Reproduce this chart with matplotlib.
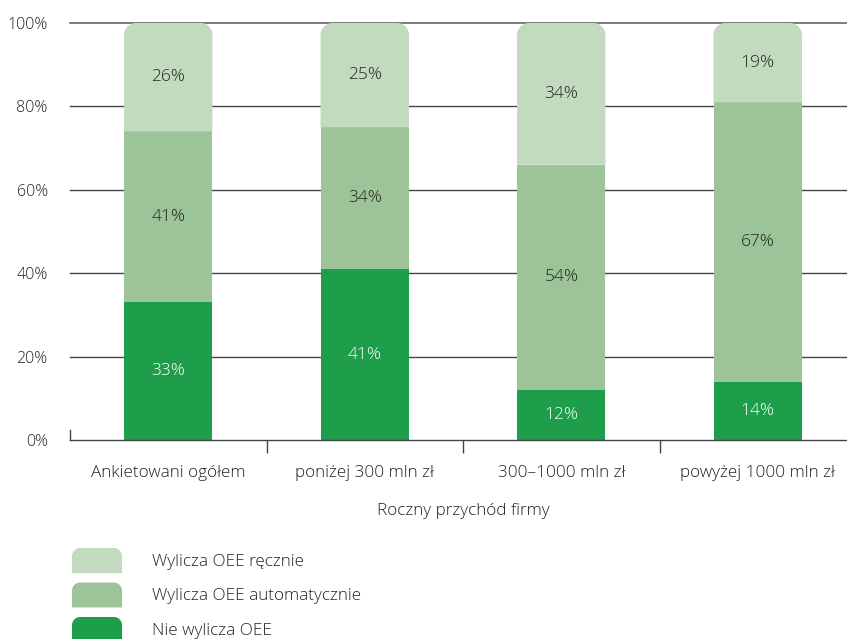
import matplotlib
matplotlib.use("Agg")
import matplotlib.pyplot as plt
from matplotlib.path import Path
from matplotlib.patches import PathPatch

plt.rcParams['font.family'] = ['Open Sans', 'DejaVu Sans']
plt.rcParams['font.weight'] = 'light'
plt.rcParams['axes.labelweight'] = 'light'

categories = ["Ankietowani ogółem", "poniżej 300 mln zł", "300–1000 mln zł", "powyżej 1000 mln zł"]
series_names = ["Nie wylicza OEE", "Wylicza OEE automatycznie", "Wylicza OEE ręcznie"]
nie_wylicza = [33, 41, 12, 14]
automatycznie = [41, 34, 54, 67]
recznie = [26, 25, 34, 19]
series_values = [nie_wylicza, automatycznie, recznie]
colors = ["#1e9e4a", "#9cc498", "#c2dbbf"]
label_colors = ["white", "#222222", "#222222"]
text_color = "#222222"
yticks = [0, 20, 40, 60, 80, 100]

W, H = 847, 639
fig = plt.figure(figsize=(W / 100, H / 100), dpi=100)
ax_left, ax_right, ax_bottom, ax_top = 70, 856, 440, 23
ax = fig.add_axes([ax_left / W, 1 - ax_bottom / H, (ax_right - ax_left) / W, (ax_bottom - ax_top) / H])
ax.set_xlim(-0.5, len(categories) - 0.5)
ax.set_ylim(0, 100)

K = 0.5523


def rounded_top(x0, x1, y0, y1, rx, ry):
    verts = [
        (x0, y0), (x0, y1 - ry),
        (x0, y1 - ry + K * ry), (x0 + rx - K * rx, y1), (x0 + rx, y1),
        (x1 - rx, y1),
        (x1 - rx + K * rx, y1), (x1, y1 - ry + K * ry), (x1, y1 - ry),
        (x1, y0), (x0, y0),
    ]
    codes = [Path.MOVETO, Path.LINETO,
             Path.CURVE4, Path.CURVE4, Path.CURVE4,
             Path.LINETO,
             Path.CURVE4, Path.CURVE4, Path.CURVE4,
             Path.LINETO, Path.CLOSEPOLY]
    return Path(verts, codes)


bar_w = 0.45
px_x = (ax_right - ax_left) / len(categories)
px_y = (ax_bottom - ax_top) / 100.0
r_px = 12
rx = r_px / px_x
ry = r_px / px_y

xs = list(range(len(categories)))
bottoms = [0] * len(categories)
n_series = len(series_values)
for si, vals in enumerate(series_values):
    for i, v in enumerate(vals):
        b = bottoms[i]
        if si == n_series - 1:
            p = PathPatch(rounded_top(i - bar_w / 2, i + bar_w / 2, b, b + v, rx, ry),
                          facecolor=colors[si], edgecolor='none', zorder=2)
            ax.add_patch(p)
        else:
            ax.bar(i, v, bottom=b, width=bar_w, color=colors[si], edgecolor='none', zorder=2)
        ax.text(i, b + v / 2, f"{v}%", ha='center', va='center', fontsize=12.5,
                color=label_colors[si], zorder=3)
        bottoms[i] = b + v

# grid
for t in yticks[1:]:
    ax.axhline(t, color='#666666' if t == 100 else '#444444', lw=1.2 if t == 100 else 1.0,
               zorder=1, clip_on=False)

ax.set_yticks(yticks)
ax.set_yticklabels([f"{t}%" for t in yticks])
ax.tick_params(axis='y', length=0, pad=16, labelsize=11.5, labelcolor=text_color)
ax.set_xticks(xs)
ax.set_xticklabels(categories)
ax.tick_params(axis='x', which='major', length=0, pad=18, labelsize=12.3, labelcolor=text_color)
ax.set_xticks([0.5, 1.5, 2.5], minor=True)
ax.tick_params(axis='x', which='minor', length=9, width=1, color='#444444', direction='out')
ax.axvline(-0.5, ymin=0, ymax=10 / (ax_bottom - ax_top), color='#444444', lw=1, clip_on=False)

for s in ['top', 'right', 'left']:
    ax.spines[s].set_visible(False)
ax.spines['bottom'].set_color('#444444')
ax.spines['bottom'].set_linewidth(1)

ax.set_xlabel("Roczny przychód firmy", fontsize=12.3, color=text_color, fontweight='light')
ax.xaxis.set_label_coords((463 - ax_left) / (ax_right - ax_left), -(503 - ax_bottom) / (ax_bottom - ax_top))

# legend (manual)
leg_order = [2, 1, 0]
leg_top = 548
leg_step = 34.5
lw_px, lh_px = 50, 25
lr = 8
for k, si in enumerate(leg_order):
    y_top = leg_top + k * leg_step
    x0 = 72 / W
    x1 = (72 + lw_px) / W
    y1 = 1 - y_top / H
    y0 = 1 - (y_top + lh_px) / H
    p = PathPatch(rounded_top(x0, x1, y0, y1, lr / W, lr / H), facecolor=colors[si],
                  edgecolor='none', transform=fig.transFigure)
    fig.patches.append(p)
    fig.text(152 / W, 1 - (y_top + lh_px / 2 + 1.5) / H, series_names[si], ha='left', va='center',
             fontsize=12.3, color=text_color)

fig.savefig("out.png", dpi=100)
